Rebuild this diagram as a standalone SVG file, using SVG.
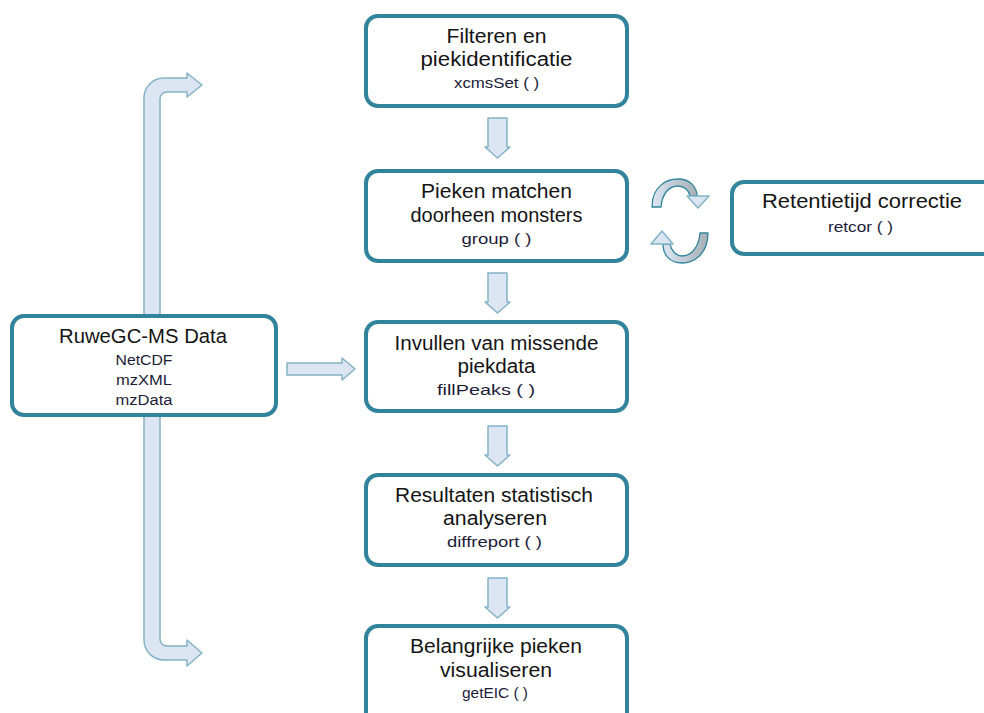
<svg xmlns="http://www.w3.org/2000/svg" width="984" height="713" viewBox="0 0 984 713">
<style>
.box{fill:#fff;stroke:#31849b;stroke-width:4}
.arr{fill:#dce6f2;stroke:#84b2c6;stroke-width:1.5;stroke-linejoin:round}
.t{font-family:"Liberation Sans",Arial,sans-serif;font-size:19.5px;fill:#141414;text-anchor:middle}
.c{font-family:"Liberation Sans",Arial,sans-serif;font-size:14px;fill:#1c1c38;text-anchor:middle}
.cyc{fill:url(#g);stroke:#31849b;stroke-width:1.3;stroke-linejoin:round}
</style>
<defs>
<linearGradient id="g" x1="0" y1="0" x2="1" y2="0">
<stop offset="0" stop-color="#dce6f2"/>
<stop offset="1" stop-color="#a6aeb5"/>
</linearGradient>
<path id="down" d="M-9.5 0 H9.5 V29 H12.5 L0 40 L-12.5 29 H-9.5 Z"/>
</defs>
<rect width="984" height="713" fill="#fff"/>
<g id="connectors">
<path class="arr" d="M144 99 A20 20 0 0 1 164 78 H187 V73 L202 85 L187 97 V92 H167 A7 7 0 0 0 160 99 V639 A7 7 0 0 0 167 646 H187 V640 L202 653 L187 666 V660 H164 A20 20 0 0 1 144 640 Z"/>
<path class="arr" d="M287 363 H342 V358 L355 369 L342 380 V375 H287 Z"/>
<use href="#down" class="arr" transform="translate(497.5 118)"/>
<use href="#down" class="arr" transform="translate(497.5 273)"/>
<use href="#down" class="arr" transform="translate(497.5 426)"/>
<use href="#down" class="arr" transform="translate(497.5 578)"/>
<g id="cycle">
<path class="cyc" d="M652 207 C652 186 667 179 678 179 C690 179 697 187 697 196 L690 196 C689 190 684 186 678 186 C668 186 662 195 661 207 Z"/>
<polygon class="arr" points="687,196 709,196 698,208"/>
<path class="cyc" d="M708 233 C708 255 693 263 682 263 C670 263 663 255 663 244 L670 244 C671 250 676 256 682 256 C692 256 699 246 700 233 Z"/>
<polygon class="arr" points="651,244 673,244 662,231"/>
</g>
</g>
<g id="raw">
<rect class="box" x="12" y="316" width="264" height="99" rx="12"/>
<text class="t" x="143" y="343" textLength="168" lengthAdjust="spacingAndGlyphs">RuweGC-MS Data</text>
<text class="c" x="144" y="365" textLength="57" lengthAdjust="spacingAndGlyphs">NetCDF</text>
<text class="c" x="144" y="385" textLength="56" lengthAdjust="spacingAndGlyphs">mzXML</text>
<text class="c" x="144" y="405" textLength="57" lengthAdjust="spacingAndGlyphs">mzData</text>
</g>
<g id="filter">
<rect class="box" x="366" y="16" width="261" height="90" rx="12"/>
<text class="t" x="496.5" y="43" textLength="100" lengthAdjust="spacingAndGlyphs">Filteren en</text>
<text class="t" x="496.5" y="66" textLength="152" lengthAdjust="spacingAndGlyphs">piekidentificatie</text>
<text class="c" x="496.5" y="88" textLength="85" lengthAdjust="spacingAndGlyphs">xcmsSet ( )</text>
</g>
<g id="group">
<rect class="box" x="366" y="171" width="261" height="90" rx="12"/>
<text class="t" x="496.5" y="198" textLength="151" lengthAdjust="spacingAndGlyphs">Pieken matchen</text>
<text class="t" x="496.5" y="222" textLength="172" lengthAdjust="spacingAndGlyphs">doorheen monsters</text>
<text class="c" x="496.5" y="244" textLength="70" lengthAdjust="spacingAndGlyphs">group ( )</text>
</g>
<g id="retcor">
<rect class="box" x="732" y="182" width="270" height="72" rx="12"/>
<text class="t" x="862" y="208" textLength="200" lengthAdjust="spacingAndGlyphs">Retentietijd correctie</text>
<text class="c" x="860.5" y="232" textLength="65" lengthAdjust="spacingAndGlyphs">retcor ( )</text>
</g>
<g id="fill">
<rect class="box" x="366" y="322" width="261" height="89" rx="12"/>
<text class="t" x="496.5" y="350" textLength="204" lengthAdjust="spacingAndGlyphs">Invullen van missende</text>
<text class="t" x="496.5" y="373" textLength="78" lengthAdjust="spacingAndGlyphs">piekdata</text>
<text class="c" x="486" y="395" textLength="98" lengthAdjust="spacingAndGlyphs">fillPeaks ( )</text>
</g>
<g id="diff">
<rect class="box" x="366" y="475" width="261" height="90" rx="12"/>
<text class="t" x="494" y="502" textLength="198" lengthAdjust="spacingAndGlyphs">Resultaten statistisch</text>
<text class="t" x="495" y="525" textLength="104" lengthAdjust="spacingAndGlyphs">analyseren</text>
<text class="c" x="494.5" y="547" textLength="95" lengthAdjust="spacingAndGlyphs">diffreport ( )</text>
</g>
<g id="eic">
<rect class="box" x="366" y="626" width="261" height="100" rx="12"/>
<text class="t" x="496" y="653" textLength="172" lengthAdjust="spacingAndGlyphs">Belangrijke pieken</text>
<text class="t" x="496" y="677" textLength="112" lengthAdjust="spacingAndGlyphs">visualiseren</text>
<text class="c" x="495" y="698" textLength="66" lengthAdjust="spacingAndGlyphs">getEIC ( )</text>
</g>
</svg>
